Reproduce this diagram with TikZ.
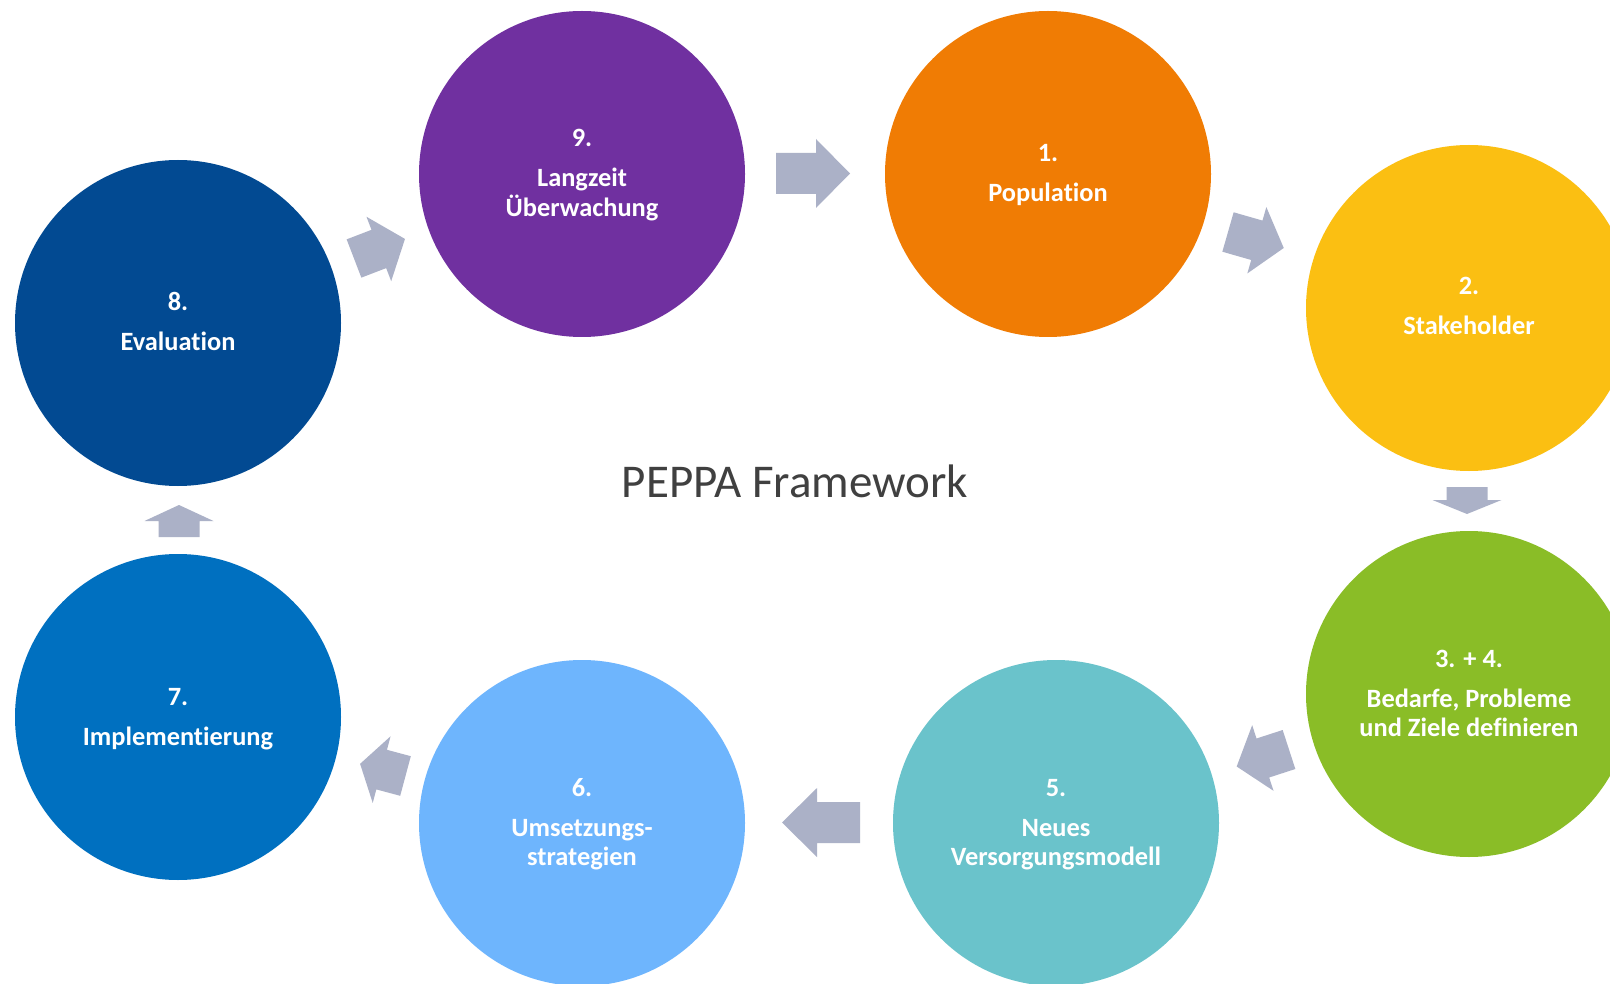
\documentclass[tikz,border=0pt]{standalone}
\usepackage{fontspec}
\setmainfont{Carlito}[Ligatures=NoCommon]
\definecolor{corange}{HTML}{F07C04}
\definecolor{cyellow}{HTML}{FBBF12}
\definecolor{cgreen}{HTML}{8ABD27}
\definecolor{cteal}{HTML}{6AC3CB}
\definecolor{clight}{HTML}{6EB5FD}
\definecolor{cblue}{HTML}{0070C0}
\definecolor{cdark}{HTML}{024A92}
\definecolor{cpurple}{HTML}{7030A0}
\definecolor{carrow}{HTML}{ABB1C7}
\definecolor{ctitle}{HTML}{404040}
\newcommand{\blockarr}[5]{%
  \begin{scope}[shift={(#1,#2)},rotate=#3]
    \fill[carrow] (0,-20.5) -- (#4,-20.5) -- (#4,-34.5) -- ({#4+#5},0) -- (#4,34.5) -- (#4,20.5) -- (0,20.5) -- cycle;
  \end{scope}}
\begin{document}
\begin{tikzpicture}[x=1pt,y=-1pt,
  circ/.style={circle,minimum size=326pt,inner sep=0pt,draw=none},
  lbl/.style={anchor=base,text=white,inner sep=0pt,font=\bfseries\fontsize{26.4}{30}\selectfont}]
\clip (0,0) rectangle (1610,984);
\fill[white] (0,0) rectangle (1610,984);
% circles
\node[circ,fill=corange] (s1) at (1048,174) {};
\node[circ,fill=cyellow] (s2) at (1469,308) {};
\node[circ,fill=cgreen]  (s3) at (1469,694) {};
\node[circ,fill=cteal]   (s5) at (1056,823) {};
\node[circ,fill=clight]  (s6) at (582,823) {};
\node[circ,fill=cblue]   (s7) at (178,717) {};
\node[circ,fill=cdark]   (s8) at (178,323) {};
\node[circ,fill=cpurple] (s9) at (582,174) {};
% labels
\node[lbl] (s1n) at ([yshift=12pt]s1.center) {1.};
\node[lbl] (s1t) at ([yshift=-28pt]s1.center) {Population};
\node[lbl] (s2n) at ([yshift=13pt]s2.center) {2.};
\node[lbl] (s2t) at ([yshift=-27pt]s2.center) {Stakeholder};
\node[lbl] (s3n) at ([yshift=27pt]s3.center) {3. + 4.};
\node[lbl] (s3a) at ([yshift=-13pt]s3.center) {Bedarfe, Probleme};
\node[lbl] (s3b) at ([yshift=-42pt]s3.center) {und Ziele definieren};
\node[lbl] (s5n) at ([yshift=27pt]s5.center) {5.};
\node[lbl] (s5a) at ([yshift=-13pt]s5.center) {Neues};
\node[lbl] (s5b) at ([yshift=-42pt]s5.center) {Versorgungsmodell};
\node[lbl] (s6n) at ([yshift=27pt]s6.center) {6.};
\node[lbl] (s6a) at ([yshift=-13pt]s6.center) {Umsetzungs-};
\node[lbl] (s6b) at ([yshift=-42pt]s6.center) {strategien};
\node[lbl] (s7n) at ([yshift=12pt]s7.center) {7.};
\node[lbl] (s7t) at ([yshift=-28pt]s7.center) {Implementierung};
\node[lbl] (s8n) at ([yshift=12pt]s8.center) {8.};
\node[lbl] (s8t) at ([yshift=-28pt]s8.center) {Evaluation};
\node[lbl] (s9n) at ([yshift=27pt]s9.center) {9.};
\node[lbl] (s9a) at ([yshift=-13pt]s9.center) {Langzeit};
\node[lbl] (s9b) at ([yshift=-43pt]s9.center) {Überwachung};
% title
\node[anchor=base,text=ctitle,inner sep=0pt,font=\fontsize{47}{52}\selectfont] (title) at (795,497) {PEPPA Framework};
% block arrows
\blockarr{776}{173.5}{0}{40}{34}
\blockarr{1228}{232}{-16}{30}{28}
\blockarr{1467}{487}{-90}{13}{14}
\blockarr{1289}{749.5}{198}{27.5}{27.5}
\blockarr{860}{822.5}{180}{43}{35}
\blockarr{405.5}{776}{165}{24.7}{22.3}
\blockarr{179}{537}{90}{16}{16}
\blockarr{354}{258.5}{21}{26.6}{28}
\end{tikzpicture}
\end{document}
